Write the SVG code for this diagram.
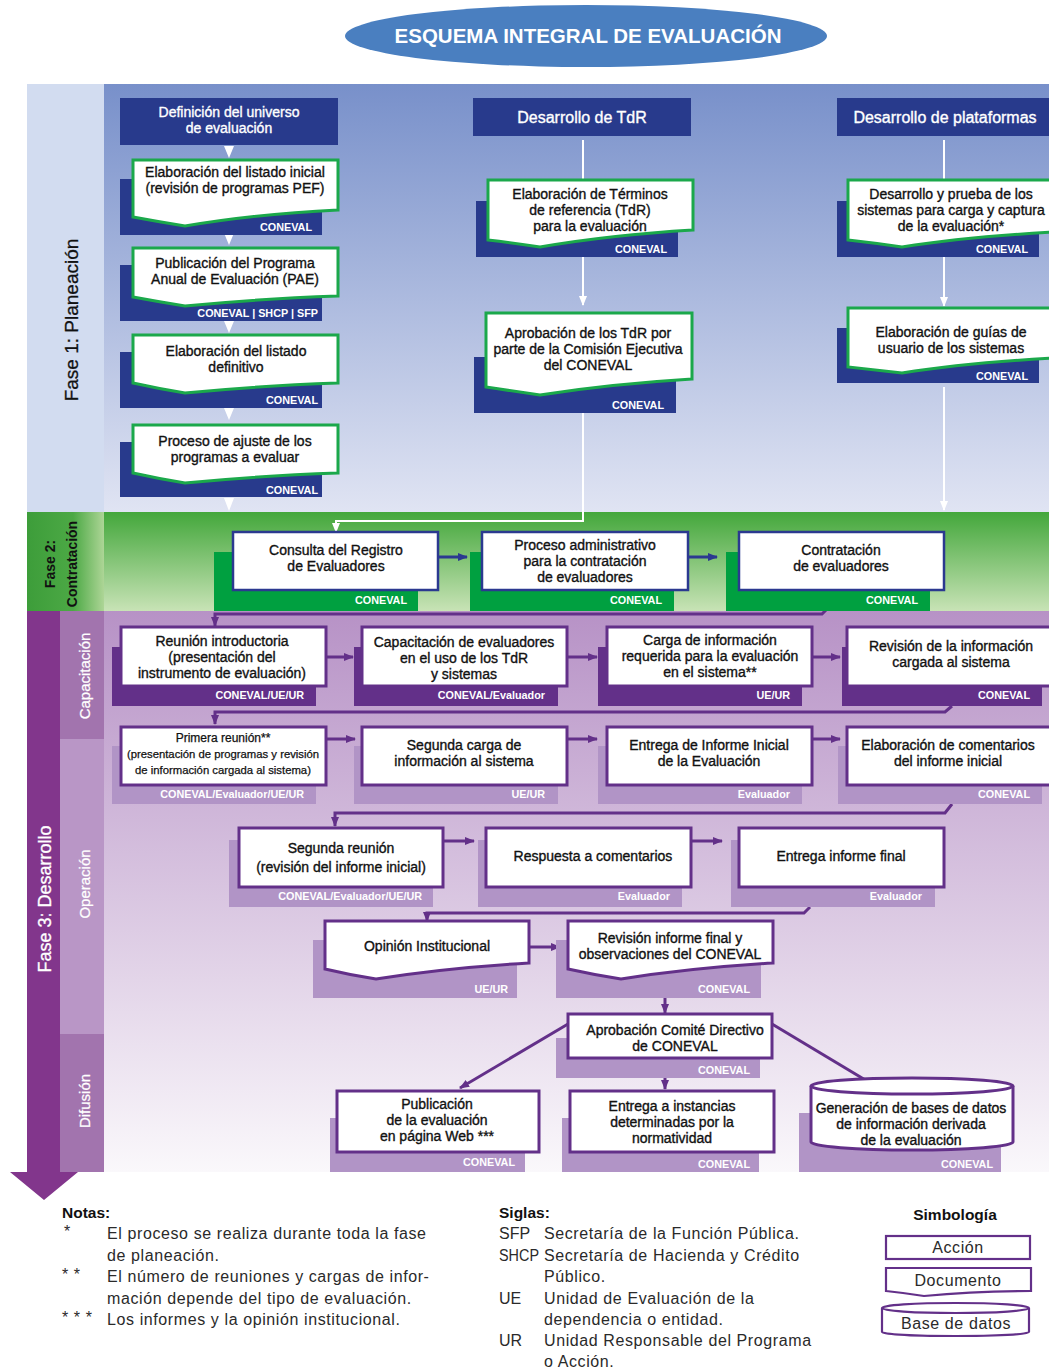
<svg xmlns="http://www.w3.org/2000/svg" width="1049" height="1370" viewBox="0 0 1049 1370">
<defs>
<linearGradient id="g1" x1="0" y1="0" x2="0" y2="1"><stop offset="0" stop-color="#7890ca"/><stop offset="1" stop-color="#e0e4f3"/></linearGradient>
<linearGradient id="g2" x1="0" y1="0" x2="0" y2="1"><stop offset="0" stop-color="#43a73b"/><stop offset="1" stop-color="#c8e3b6"/></linearGradient>
<linearGradient id="g2l" x1="0" y1="0" x2="1" y2="0"><stop offset="0" stop-color="#3d9d3a"/><stop offset="0.6" stop-color="#4ca945"/><stop offset="1" stop-color="#add596"/></linearGradient>
<linearGradient id="g3" x1="0" y1="0" x2="0" y2="1"><stop offset="0" stop-color="#b792c6"/><stop offset="1" stop-color="#faf8fb"/></linearGradient>
<marker id="aw" markerWidth="10" markerHeight="10" refX="9" refY="5" orient="auto" markerUnits="userSpaceOnUse"><path d="M0,1 L10,5 L0,9 Z" fill="#fff"/></marker>
<marker id="ab" markerWidth="10" markerHeight="10" refX="9" refY="5" orient="auto" markerUnits="userSpaceOnUse"><path d="M0,1 L10,5 L0,9 Z" fill="#2b3990"/></marker>
<marker id="ap" markerWidth="10" markerHeight="10" refX="9" refY="5" orient="auto" markerUnits="userSpaceOnUse"><path d="M0,1 L10,5 L0,9 Z" fill="#633089"/></marker>
<style>
text{font-family:"Liberation Sans",Arial,sans-serif}
.t{font-size:14px;fill:#111;stroke:#111;stroke-width:0.35;text-anchor:middle}
.s{font-size:11.3px;fill:#111;stroke:#111;stroke-width:0.25;text-anchor:middle}
.w{fill:#fff;stroke:#fff}
.hd{font-size:16px;fill:#fff;stroke:#fff;stroke-width:0.35;text-anchor:middle}
.lb{font-size:10.8px;font-weight:bold;fill:#fff;text-anchor:end}
.bk{fill:#283a8c}
.doc{fill:#fff;stroke:#1ba84b;stroke-width:3}
.gb{fill:#00a040}
.gf{fill:#fff;stroke:#2b3990;stroke-width:2.5}
.pd{fill:#633089}
.pl{fill:#b194c6}
.pf{fill:#fff;stroke:#633089;stroke-width:3}
.cw{stroke:#fff;stroke-width:2;fill:none}
.cb{stroke:#2b3990;stroke-width:3;fill:none}
.cp{stroke:#633089;stroke-width:3;fill:none}
.nt{font-size:16px;fill:#2a2a2a;letter-spacing:0.6px}
.nb{font-size:15.5px;font-weight:bold;fill:#111}
.lg{fill:#fff;stroke:#633089;stroke-width:2.2}
</style>
</defs>
<rect width="1049" height="1370" fill="#fff"/>

<g id="title">
<ellipse cx="586" cy="36" rx="241" ry="31" fill="#4a7fc0"/>
<text x="588" y="43" style="font-size:20.5px;font-weight:bold;fill:#fff;text-anchor:middle">ESQUEMA INTEGRAL DE EVALUACIÓN</text>
</g>

<g id="bands">
<rect x="27" y="84" width="77" height="428" fill="#d2dcf0"/>
<rect x="104" y="84" width="945" height="428" fill="url(#g1)"/>
<rect x="27" y="512" width="77" height="99" fill="url(#g2l)"/>
<rect x="104" y="512" width="945" height="99" fill="url(#g2)"/>
<rect x="104" y="611" width="945" height="561" fill="url(#g3)"/>
<rect x="60" y="611" width="44" height="128" fill="#a274ae"/>
<rect x="60" y="739" width="44" height="295" fill="#b996c6"/>
<rect x="60" y="1034" width="44" height="138" fill="#a274ae"/>
<path d="M27,611 H60 V1172 H78 L44,1200 L10,1172 H27 Z" fill="#82368c"/>
<text transform="translate(78,320) rotate(-90)" style="font-size:19px;fill:#111;stroke:#111;stroke-width:0.3;text-anchor:middle">Fase 1: Planeación</text>
<text transform="translate(55,564) rotate(-90)" style="font-size:14px;font-weight:bold;fill:#111;text-anchor:middle">Fase 2:</text>
<text transform="translate(77,564) rotate(-90)" style="font-size:14px;font-weight:bold;fill:#111;text-anchor:middle">Contratación</text>
<text transform="translate(51,899) rotate(-90)" style="font-size:18px;fill:#fff;stroke:#fff;stroke-width:0.3;text-anchor:middle">Fase 3: Desarrollo</text>
<text transform="translate(90,676) rotate(-90)" style="font-size:15px;fill:#fff;stroke:#fff;stroke-width:0.25;text-anchor:middle">Capacitación</text>
<text transform="translate(90,884) rotate(-90)" style="font-size:15px;fill:#fff;stroke:#fff;stroke-width:0.25;text-anchor:middle">Operación</text>
<text transform="translate(90,1101) rotate(-90)" style="font-size:15px;fill:#fff;stroke:#fff;stroke-width:0.25;text-anchor:middle">Difusión</text>
</g>

<g id="connectors">
<polygon points="224,146 234,146 229,158" fill="#fff"/>
<polygon points="224,233 234,233 229,245" fill="#fff"/>
<polygon points="224,321 234,321 229,333" fill="#fff"/>
<polygon points="224,408 234,408 229,420" fill="#fff"/>
<polygon points="224,498 234,498 229,511" fill="#fff"/>
<path class="cw" d="M583,140 V180"/>
<path class="cw" d="M583,257 V305" marker-end="url(#aw)"/>
<path class="cw" d="M583,413 V521 H336 V532" marker-end="url(#aw)"/>
<path class="cw" d="M944,140 V180"/>
<path class="cw" d="M944,257 V306" marker-end="url(#aw)"/>
<path class="cw" d="M944,387 V510" marker-end="url(#aw)"/>
<path class="cb" d="M438,557 H467" marker-end="url(#ab)"/>
<path class="cb" d="M688,557 H717" marker-end="url(#ab)"/>
<path class="cp" d="M829,607 L822,614 H215 V626" marker-end="url(#ap)"/>
<path class="cp" d="M326,657 H353" marker-end="url(#ap)"/>
<path class="cp" d="M567,657 H597" marker-end="url(#ap)"/>
<path class="cp" d="M812,657 H840" marker-end="url(#ap)"/>
<path class="cp" d="M952,706 L945,712 H215 V724" marker-end="url(#ap)"/>
<path class="cp" d="M326,739 H355" marker-end="url(#ap)"/>
<path class="cp" d="M567,739 H597" marker-end="url(#ap)"/>
<path class="cp" d="M812,739 H840" marker-end="url(#ap)"/>
<path class="cp" d="M952,804 L945,813 H335 V826" marker-end="url(#ap)"/>
<path class="cp" d="M443,841 H474" marker-end="url(#ap)"/>
<path class="cp" d="M691,841 H722" marker-end="url(#ap)"/>
<path class="cp" d="M810,907 L804,913 H427 V921" marker-end="url(#ap)"/>
<path class="cp" d="M529,947 H560" marker-end="url(#ap)"/>
<path class="cp" d="M665,979 V1013" marker-end="url(#ap)"/>
<path class="cp" d="M568,1024 L460,1088" marker-end="url(#ap)"/>
<path class="cp" d="M665,1058 V1089" marker-end="url(#ap)"/>
<path class="cp" d="M772,1024 L877,1087" marker-end="url(#ap)"/>
</g>

<g id="n-universo">
<rect class="bk" x="120" y="98" width="218" height="47"/>
<text class="t w" x="229" y="117">Definición del universo<tspan x="229" dy="16">de evaluación</tspan></text>
</g>
<g id="n-listado-inicial">
<rect class="bk" x="120" y="179" width="202" height="56"/>
<path class="doc" d="M133,160 H338 V210 Q255,214 185,226 Q160,222 133,217 Z"/>
<text class="t" x="235" y="177">Elaboración del listado inicial<tspan x="235" dy="16">(revisión de programas PEF)</tspan></text>
<text class="lb" x="312" y="231">CONEVAL</text>
</g>
<g id="n-pae">
<rect class="bk" x="120" y="265" width="202" height="56"/>
<path class="doc" d="M133,248 H338 V296 Q255,299 185,306 Q160,302 133,297 Z"/>
<text class="t" x="235" y="268">Publicación del Programa<tspan x="235" dy="16">Anual de Evaluación (PAE)</tspan></text>
<text class="lb" x="318" y="317">CONEVAL | SHCP | SFP</text>
</g>
<g id="n-listado-def">
<rect class="bk" x="120" y="352" width="202" height="56"/>
<path class="doc" d="M133,335 H338 V383 Q255,386 185,393 Q160,389 133,383 Z"/>
<text class="t" x="236" y="356">Elaboración del listado<tspan x="236" dy="16">definitivo</tspan></text>
<text class="lb" x="318" y="404">CONEVAL</text>
</g>
<g id="n-ajuste">
<rect class="bk" x="120" y="442" width="202" height="55"/>
<path class="doc" d="M133,425 H338 V473 Q255,476 185,483 Q160,479 133,473 Z"/>
<text class="t" x="235" y="446">Proceso de ajuste de los<tspan x="235" dy="16">programas a evaluar</tspan></text>
<text class="lb" x="318" y="494">CONEVAL</text>
</g>

<g id="n-tdr-head">
<rect class="bk" x="473" y="98" width="218" height="38"/>
<text class="hd" x="582" y="123">Desarrollo de TdR</text>
</g>
<g id="n-tdr-elab">
<rect class="bk" x="476" y="201" width="202" height="56"/>
<path class="doc" d="M488,180 H693 V230 Q610,235 540,247 Q515,243 488,240 Z"/>
<text class="t" x="590" y="199">Elaboración de Términos<tspan x="590" dy="16">de referencia (TdR)</tspan><tspan x="590" dy="16">para la evaluación</tspan></text>
<text class="lb" x="667" y="253">CONEVAL</text>
</g>
<g id="n-tdr-aprob">
<rect class="bk" x="474" y="357" width="202" height="56"/>
<path class="doc" d="M486,313 H692 V379 Q610,384 540,395 Q512,391 486,387 Z"/>
<text class="t" x="588" y="338">Aprobación de los TdR por<tspan x="588" dy="16">parte de la Comisión Ejecutiva</tspan><tspan x="588" dy="16">del CONEVAL</tspan></text>
<text class="lb" x="664" y="409">CONEVAL</text>
</g>

<g id="n-plat-head">
<rect class="bk" x="837" y="98" width="212" height="38"/>
<text class="hd" x="945" y="123">Desarrollo de plataformas</text>
</g>
<g id="n-plat-sist">
<rect class="bk" x="837" y="201" width="202" height="56"/>
<path class="doc" d="M848,180 H1053 V232 Q965,237 902,247 Q875,243 848,240 Z"/>
<text class="t" x="951" y="199">Desarrollo y prueba de los<tspan x="951" dy="16">sistemas para carga y captura</tspan><tspan x="951" dy="16">de la evaluación*</tspan></text>
<text class="lb" x="1028" y="253">CONEVAL</text>
</g>
<g id="n-plat-guias">
<rect class="bk" x="837" y="328" width="202" height="55"/>
<path class="doc" d="M848,308 H1053 V358 Q965,363 902,373 Q875,370 848,367 Z"/>
<text class="t" x="951" y="337">Elaboración de guías de<tspan x="951" dy="16">usuario de los sistemas</tspan></text>
<text class="lb" x="1028" y="380">CONEVAL</text>
</g>

<g id="n-registro">
<rect class="gb" x="214" y="552" width="204" height="59"/>
<rect class="gf" x="233" y="532" width="205" height="58"/>
<text class="t" x="336" y="555">Consulta del Registro<tspan x="336" dy="16">de Evaluadores</tspan></text>
<text class="lb" x="407" y="604">CONEVAL</text>
</g>
<g id="n-proceso-adm">
<rect class="gb" x="470" y="552" width="204" height="59"/>
<rect class="gf" x="482" y="532" width="206" height="58"/>
<text class="t" x="585" y="550">Proceso administrativo<tspan x="585" dy="16">para la contratación</tspan><tspan x="585" dy="16">de evaluadores</tspan></text>
<text class="lb" x="662" y="604">CONEVAL</text>
</g>
<g id="n-contratacion">
<rect class="gb" x="726" y="552" width="204" height="59"/>
<rect class="gf" x="739" y="532" width="205" height="58"/>
<text class="t" x="841" y="555">Contratación<tspan x="841" dy="16">de evaluadores</tspan></text>
<text class="lb" x="918" y="604">CONEVAL</text>
</g>

<g id="n-reunion-intro">
<rect class="pd" x="112" y="647" width="204" height="59"/>
<rect class="pf" x="121" y="627" width="205" height="59"/>
<text class="t" x="222" y="646">Reunión introductoria<tspan x="222" dy="16">(presentación del</tspan><tspan x="222" dy="16">instrumento de evaluación)</tspan></text>
<text class="lb" x="304" y="699">CONEVAL/UE/UR</text>
</g>
<g id="n-capacitacion">
<rect class="pd" x="354" y="647" width="204" height="59"/>
<rect class="pf" x="362" y="627" width="205" height="59"/>
<text class="t" x="464" y="647">Capacitación de evaluadores<tspan x="464" dy="16">en el uso de los TdR</tspan><tspan x="464" dy="16">y sistemas</tspan></text>
<text class="lb" x="545" y="699">CONEVAL/Evaluador</text>
</g>
<g id="n-carga">
<rect class="pd" x="598" y="647" width="204" height="59"/>
<rect class="pf" x="607" y="627" width="205" height="59"/>
<text class="t" x="710" y="645">Carga de información<tspan x="710" dy="16">requerida para la evaluación</tspan><tspan x="710" dy="16">en el sistema**</tspan></text>
<text class="lb" x="790" y="699">UE/UR</text>
</g>
<g id="n-revision-info">
<rect class="pd" x="842" y="647" width="200" height="59"/>
<rect class="pf" x="847" y="627" width="210" height="59"/>
<text class="t" x="951" y="651">Revisión de la información<tspan x="951" dy="16">cargada al sistema</tspan></text>
<text class="lb" x="1030" y="699">CONEVAL</text>
</g>

<g id="n-primera-reunion">
<rect class="pl" x="112" y="746" width="204" height="58"/>
<rect class="pf" x="121" y="727" width="205" height="58"/>
<text class="s" x="223" y="742" style="font-size:12px">Primera reunión**</text>
<text class="s" x="223" y="758">(presentación de programas y revisión<tspan x="223" dy="16">de información cargada al sistema)</tspan></text>
<text class="lb" x="304" y="798">CONEVAL/Evaluador/UE/UR</text>
</g>
<g id="n-segunda-carga">
<rect class="pl" x="354" y="746" width="204" height="58"/>
<rect class="pf" x="362" y="727" width="205" height="58"/>
<text class="t" x="464" y="750">Segunda carga de<tspan x="464" dy="16">información al sistema</tspan></text>
<text class="lb" x="545" y="798">UE/UR</text>
</g>
<g id="n-informe-inicial">
<rect class="pl" x="598" y="746" width="204" height="58"/>
<rect class="pf" x="607" y="727" width="205" height="58"/>
<text class="t" x="709" y="750">Entrega de Informe Inicial<tspan x="709" dy="16">de la Evaluación</tspan></text>
<text class="lb" x="790" y="798">Evaluador</text>
</g>
<g id="n-comentarios">
<rect class="pl" x="838" y="746" width="204" height="58"/>
<rect class="pf" x="847" y="727" width="210" height="58"/>
<text class="t" x="948" y="750">Elaboración de comentarios<tspan x="948" dy="16">del informe inicial</tspan></text>
<text class="lb" x="1030" y="798">CONEVAL</text>
</g>

<g id="n-segunda-reunion">
<rect class="pl" x="229" y="840" width="204" height="67"/>
<rect class="pf" x="239" y="828" width="204" height="59"/>
<text class="t" x="341" y="853">Segunda reunión<tspan x="341" dy="19">(revisión del informe inicial)</tspan></text>
<text class="lb" x="422" y="900">CONEVAL/Evaluador/UE/UR</text>
</g>
<g id="n-respuesta">
<rect class="pl" x="478" y="840" width="204" height="67"/>
<rect class="pf" x="486" y="828" width="205" height="59"/>
<text class="t" x="593" y="861">Respuesta a comentarios</text>
<text class="lb" x="670" y="900">Evaluador</text>
</g>
<g id="n-informe-final">
<rect class="pl" x="731" y="840" width="204" height="67"/>
<rect class="pf" x="739" y="828" width="205" height="59"/>
<text class="t" x="841" y="861">Entrega informe final</text>
<text class="lb" x="922" y="900">Evaluador</text>
</g>

<g id="n-opinion">
<rect class="pl" x="313" y="940" width="204" height="58"/>
<path class="pf" d="M325,921 H529 V963 Q445,968 376,979 Q350,975 325,969 Z"/>
<text class="t" x="427" y="951">Opinión Institucional</text>
<text class="lb" x="508" y="993">UE/UR</text>
</g>
<g id="n-revision-final">
<rect class="pl" x="556" y="940" width="205" height="58"/>
<path class="pf" d="M568,921 H773 V963 Q690,968 621,979 Q595,975 568,969 Z"/>
<text class="t" x="670" y="943">Revisión informe final y<tspan x="670" dy="16">observaciones del CONEVAL</tspan></text>
<text class="lb" x="750" y="993">CONEVAL</text>
</g>

<g id="n-aprobacion">
<rect class="pl" x="556" y="1038" width="204" height="40"/>
<rect class="pf" x="568" y="1014" width="204" height="44"/>
<text class="t" x="675" y="1035">Aprobación Comité Directivo<tspan x="675" dy="16">de CONEVAL</tspan></text>
<text class="lb" x="750" y="1074">CONEVAL</text>
</g>
<g id="n-publicacion">
<rect class="pl" x="330" y="1118" width="195" height="54"/>
<rect class="pf" x="337" y="1091" width="202" height="61"/>
<text class="t" x="437" y="1109">Publicación<tspan x="437" dy="16">de la evaluación</tspan><tspan x="437" dy="16">en página Web ***</tspan></text>
<text class="lb" x="515" y="1166">CONEVAL</text>
</g>
<g id="n-entrega-instancias">
<rect class="pl" x="562" y="1118" width="197" height="54"/>
<rect class="pf" x="570" y="1091" width="204" height="61"/>
<text class="t" x="672" y="1111">Entrega a instancias<tspan x="672" dy="16">determinadas por la</tspan><tspan x="672" dy="16">normatividad</tspan></text>
<text class="lb" x="750" y="1168">CONEVAL</text>
</g>
<g id="n-bases-datos">
<rect class="pl" x="799" y="1113" width="202" height="59"/>
<path class="pf" d="M811,1086 A101,8 0 0 1 1013,1086 V1142 A101,8 0 0 1 811,1142 Z"/>
<path class="pf" d="M811,1086 A101,8 0 0 0 1013,1086" fill="none"/>
<text class="t" x="911" y="1113">Generación de bases de datos<tspan x="911" dy="16">de información derivada</tspan><tspan x="911" dy="16">de la evaluación</tspan></text>
<text class="lb" x="993" y="1168">CONEVAL</text>
</g>

<g id="notas">
<text class="nb" x="62" y="1218">Notas:</text>
<text class="nt" x="64" y="1237">*</text>
<text class="nt" x="107" y="1239">El proceso se realiza durante toda la fase</text>
<text class="nt" x="107" y="1261">de planeación.</text>
<text class="nt" x="62" y="1280">* *</text>
<text class="nt" x="107" y="1282">El número de reuniones y cargas de infor-</text>
<text class="nt" x="107" y="1304">mación depende del tipo de evaluación.</text>
<text class="nt" x="62" y="1323">* * *</text>
<text class="nt" x="107" y="1325">Los informes y la opinión institucional.</text>
</g>
<g id="siglas">
<text class="nb" x="499" y="1218">Siglas:</text>
<text class="nt" x="499" y="1239" style="letter-spacing:0">SFP</text>
<text class="nt" x="544" y="1239">Secretaría de la Función Pública.</text>
<text class="nt" x="499" y="1261" style="letter-spacing:0" textLength="40" lengthAdjust="spacingAndGlyphs">SHCP</text>
<text class="nt" x="544" y="1261">Secretaría de Hacienda y Crédito</text>
<text class="nt" x="544" y="1282">Público.</text>
<text class="nt" x="499" y="1304" style="letter-spacing:0">UE</text>
<text class="nt" x="544" y="1304">Unidad de Evaluación de la</text>
<text class="nt" x="544" y="1325">dependencia o entidad.</text>
<text class="nt" x="499" y="1346" style="letter-spacing:0">UR</text>
<text class="nt" x="544" y="1346">Unidad Responsable del Programa</text>
<text class="nt" x="544" y="1367">o Acción.</text>
</g>
<g id="simbologia">
<text class="nb" x="955" y="1220" style="text-anchor:middle">Simbología</text>
<rect class="lg" x="886" y="1236" width="144" height="23"/>
<text class="nt" x="958" y="1253" style="text-anchor:middle">Acción</text>
<path class="lg" d="M886,1268 H1031 V1291 Q975,1291 924,1296 Q905,1293 886,1291 Z"/>
<text class="nt" x="958" y="1286" style="text-anchor:middle">Documento</text>
<path class="lg" d="M882,1308 A73.5,5 0 0 1 1029,1308 V1332 A73.5,4 0 0 1 882,1332 Z"/>
<path class="lg" d="M882,1308 A73.5,5 0 0 0 1029,1308" fill="none"/>
<text class="nt" x="956" y="1329" style="text-anchor:middle">Base de datos</text>
</g>
</svg>
